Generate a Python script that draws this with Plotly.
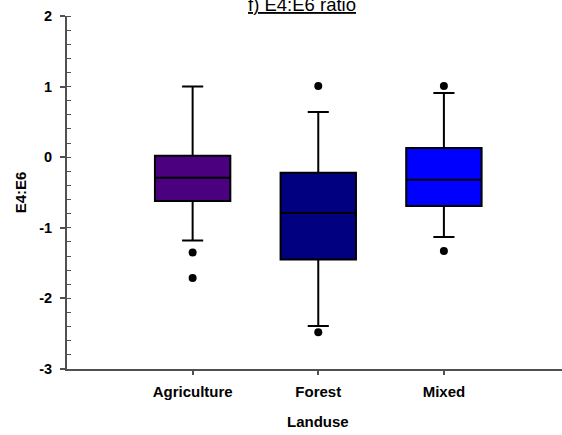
import plotly.graph_objects as go

# Summary statistics of the E4:E6 ratio per land-use class
categories = ["Agriculture", "Forest", "Mixed"]
q1 = [-0.62, -1.45, -0.69]
medians = [-0.29, -0.79, -0.32]
q3 = [0.02, -0.22, 0.13]
lower_fence = [-1.18, -2.39, -1.13]
upper_fence = [1.00, 0.64, 0.91]
box_colors = ["#4B0080", "#000080", "#0000FF"]

# Points beyond the whiskers
outlier_cat = ["Agriculture", "Agriculture", "Forest", "Forest", "Mixed", "Mixed"]
outlier_val = [-1.35, -1.71, 1.01, -2.48, 1.01, -1.33]

# Y axis ticks
y_ticks = [-3, -2, -1, 0, 1, 2]
y_tick_labels = ["-3", "-2", "-1", "0", "1", "2"]

positions = [1, 2, 3]
pos_of = dict(zip(categories, positions))

FONT = "Liberation Sans, Arial, sans-serif"
AXIS_COLOR = "#505050"

fig = go.Figure()

for p, a, m, b, lo, hi, c in zip(positions, q1, medians, q3, lower_fence, upper_fence, box_colors):
    fig.add_trace(go.Box(
        x=[p], q1=[a], median=[m], q3=[b],
        lowerfence=[lo], upperfence=[hi],
        width=0.6, whiskerwidth=0.28,
        fillcolor=c, line=dict(color="black", width=2),
        boxpoints=False, showlegend=False, hoverinfo="skip",
    ))

fig.add_trace(go.Scatter(
    x=[pos_of[c] for c in outlier_cat], y=outlier_val,
    mode="markers", marker=dict(color="black", size=8),
    showlegend=False, hoverinfo="skip",
))

fig.update_layout(
    width=562, height=435,
    margin=dict(l=67, r=0, t=16, b=65.5),
    plot_bgcolor="white", paper_bgcolor="white",
    font=dict(family=FONT, color="black"),
    xaxis=dict(
        range=[0, 3.94],
        tickmode="array", tickvals=positions, ticktext=[f"<b>{c}</b>" for c in categories],
        tickfont=dict(size=15),
        ticks="outside", ticklen=4, tickwidth=1.5, tickcolor=AXIS_COLOR,
        ticklabelstandoff=4,
        showline=True, linecolor=AXIS_COLOR, linewidth=2,
        showgrid=False, zeroline=False,
    ),
    yaxis=dict(
        range=[-3, 2],
        tickmode="array", tickvals=y_ticks, ticktext=[f"<b>{t}</b>" for t in y_tick_labels],
        tickfont=dict(size=14.5),
        ticks="outside", ticklen=5, tickwidth=1.5, tickcolor=AXIS_COLOR,
        ticklabelstandoff=5,
        minor=dict(ticks="inside", ticklen=4, tickmode="linear", tick0=-3, dtick=0.2,
                   tickwidth=1, tickcolor=AXIS_COLOR),
        showline=True, linecolor=AXIS_COLOR, linewidth=2,
        showgrid=False, zeroline=False,
        title=dict(text="<b>E4:E6</b>", font=dict(size=15), standoff=9),
    ),
    annotations=[
        dict(text="<u>f) E4:E6 ratio</u>", xref="paper", yref="paper",
             x=0.475, y=0.996, xanchor="center", yanchor="bottom",
             showarrow=False, font=dict(size=18.5)),
        dict(text="<b>Landuse</b>", xref="x", yref="paper",
             x=2, y=-0.148, xanchor="center", yanchor="middle",
             showarrow=False, font=dict(size=15)),
    ],
)

fig.write_html("out.html")
